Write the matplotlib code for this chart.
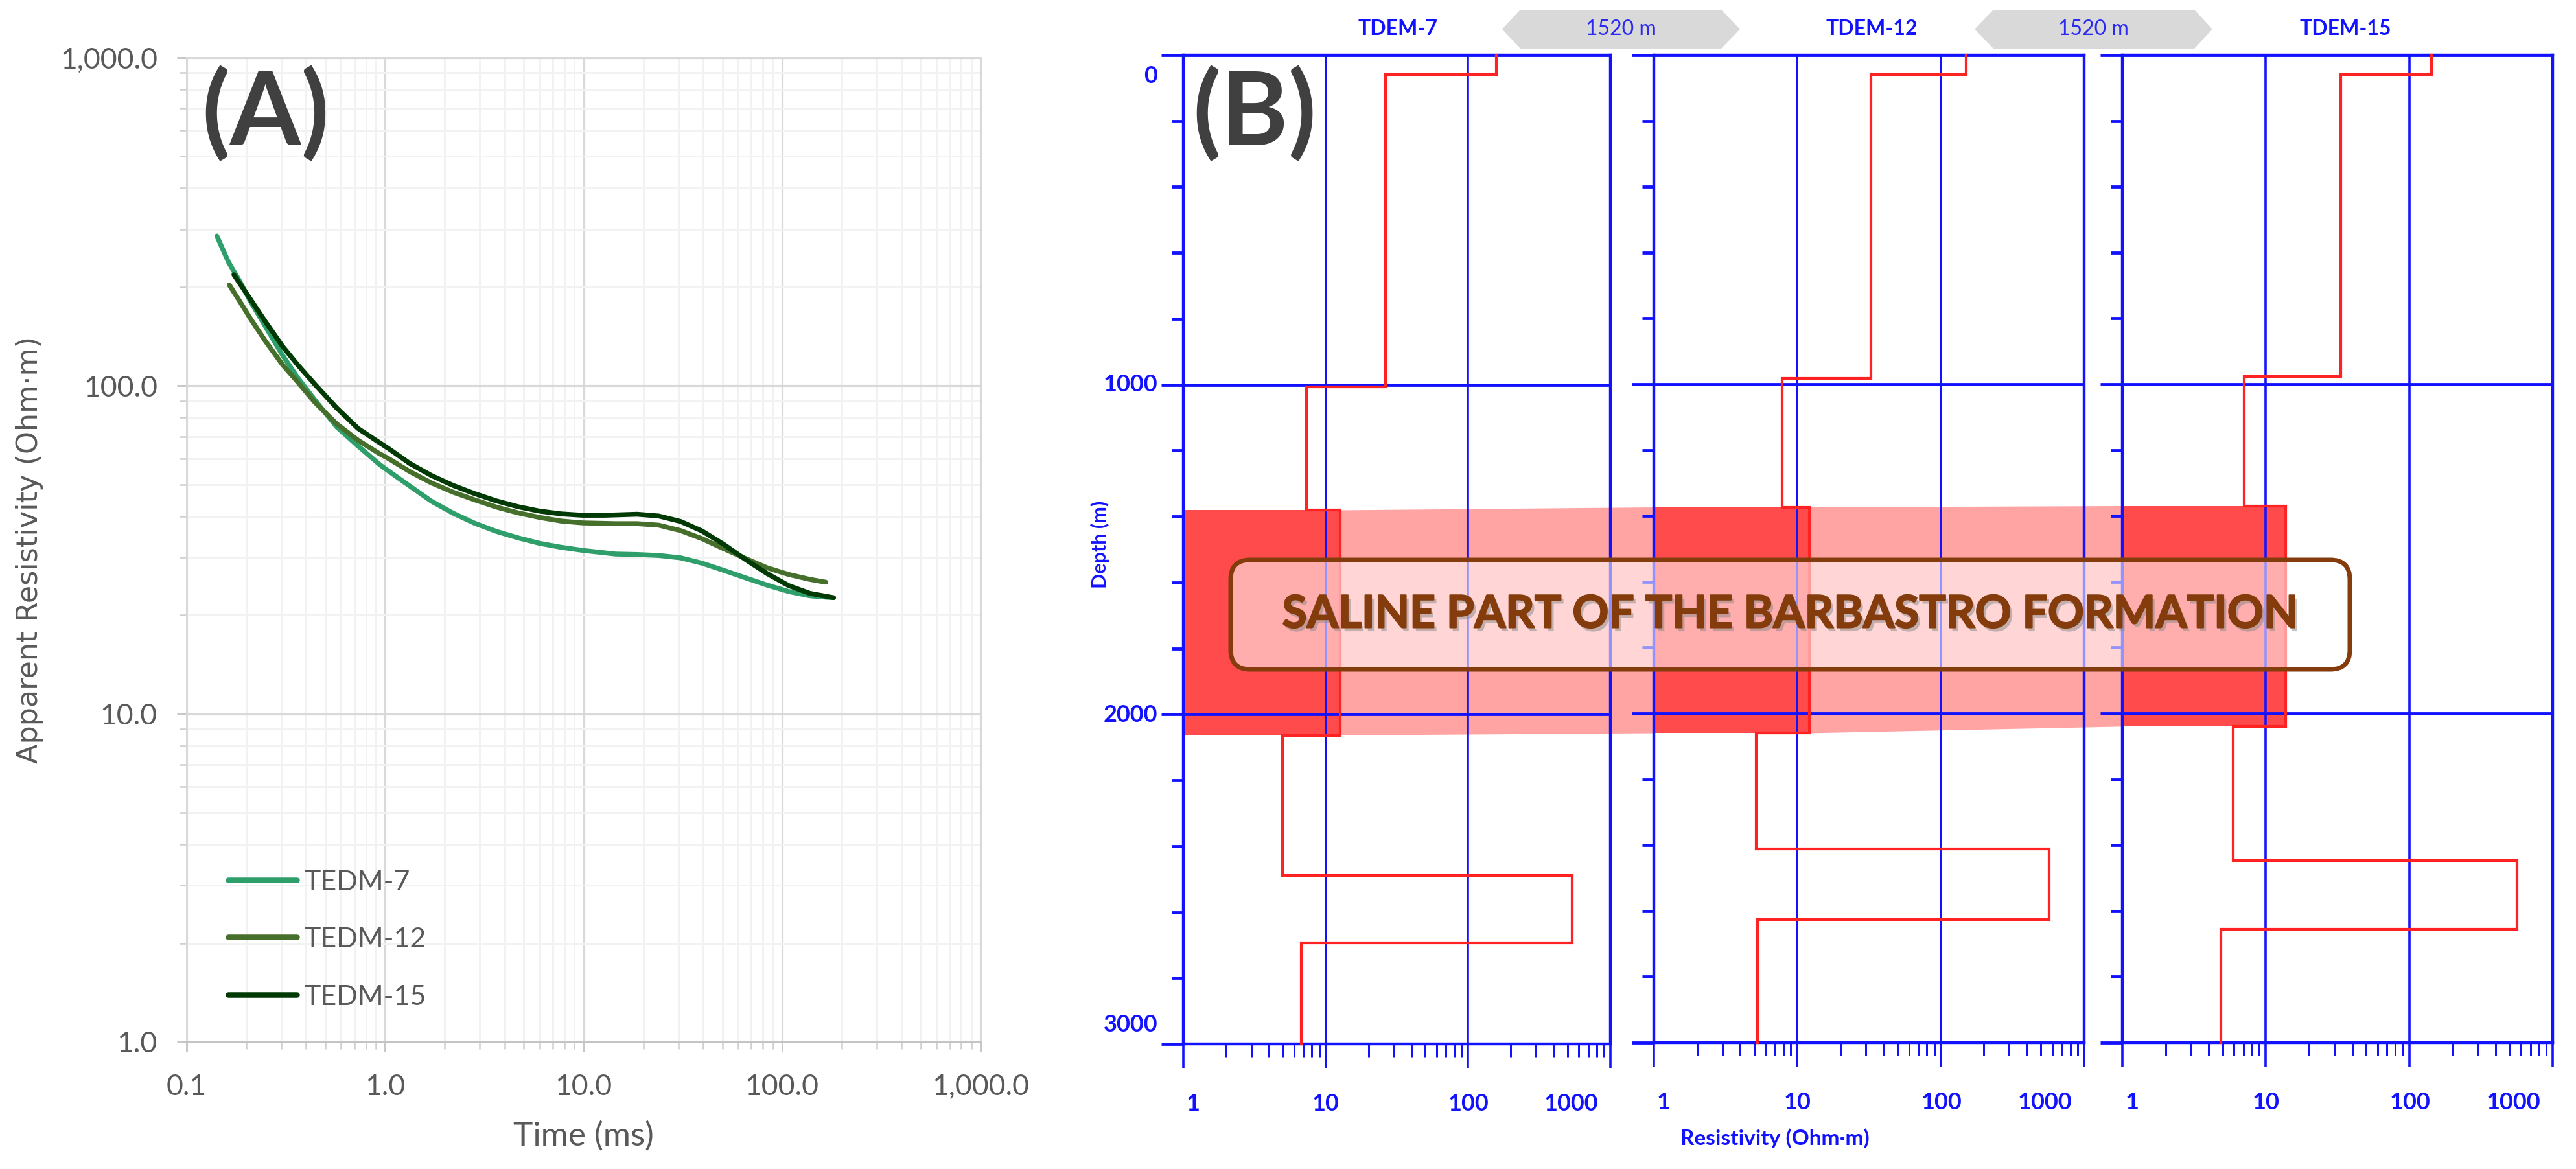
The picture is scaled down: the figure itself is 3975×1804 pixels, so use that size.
import matplotlib
matplotlib.use('Agg')
import matplotlib.pyplot as plt
import matplotlib.patheffects as pe
from matplotlib.patches import FancyBboxPatch, Polygon, Rectangle
from matplotlib.ticker import FixedLocator, FuncFormatter, LogLocator, NullFormatter

W, H = 3975, 1804
DPI = 100

plt.rcParams['font.family'] = ['Lato', 'DejaVu Sans']

# panel A: apparent resistivity curves (time in ms, resistivity in ohm.m)
t_tedm7 = [0.142, 0.1626, 0.1845, 0.209, 0.304, 0.362, 0.443, 0.569, 0.731, 0.94, 1.04, 1.33, 1.71,
           2.2, 2.83, 3.63, 4.67, 6.0, 7.7, 9.9, 14.5, 18.6, 23.9, 30.8, 39.5, 50.7, 65.2, 83.8,
           108, 138, 178]
r_tedm7 = [286, 238, 209, 181.5, 124, 106, 90.5, 75, 65.5, 57.5, 55, 49.5, 44.5,
           40.9, 38.1, 36, 34.4, 33.1, 32.2, 31.5, 30.7, 30.6, 30.4, 29.9, 28.8, 27.4, 26, 24.7,
           23.6, 22.9, 22.6]
t_tedm12 = [0.164, 0.1845, 0.209, 0.249, 0.304, 0.362, 0.443, 0.569, 0.731, 0.94, 1.04, 1.33, 1.71,
            2.2, 2.83, 3.63, 4.67, 6.0, 7.7, 9.9, 14.5, 18.6, 23.9, 30.8, 39.5, 50.7, 65.2, 83.8,
            108, 138, 166]
r_tedm12 = [203, 181.5, 160.7, 137, 116, 102.8, 89, 76.6, 68.2, 62, 60, 54.8, 50.6,
            47.4, 44.9, 42.7, 41, 39.7, 38.7, 38.2, 38, 38, 37.6, 36.2, 34.2, 31.9, 29.8, 27.9,
            26.6, 25.7, 25.2]
t_tedm15 = [0.173, 0.209, 0.249, 0.304, 0.362, 0.443, 0.569, 0.731, 0.94, 1.04, 1.33, 1.71,
            2.2, 2.83, 3.63, 4.67, 6.0, 7.7, 9.9, 12.7, 14.5, 18.6, 23.9, 30.8, 39.5, 50.7, 65.2, 83.8,
            108, 138, 182]
r_tedm15 = [218, 184, 157, 132, 116, 101, 85.7, 74.1, 67, 64.4, 58, 53.3,
            49.7, 46.9, 44.6, 42.8, 41.5, 40.7, 40.3, 40.3, 40.4, 40.6, 40.1, 38.6, 36.1, 32.9, 29.6, 26.8,
            24.6, 23.3, 22.6]
curve_labels = ['TEDM-7', 'TEDM-12', 'TEDM-15']
curve_colors = ['#2E9E6B', '#456F2A', '#023A06']

# panel B: layered models, step lines as (resistivity, depth) vertices
sounding_names = ['TDEM-7', 'TDEM-12', 'TDEM-15']
rho_7 = [158, 158, 26.2, 26.2, 7.3, 7.3, 12.7, 12.7, 4.97, 4.97, 540, 540, 6.75, 6.75]
dep_7 = [0, 59, 59, 1006, 1006, 1381, 1381, 2064, 2064, 2489, 2489, 2693, 2693, 3000]
rho_12 = [151, 151, 32.5, 32.5, 7.87, 7.87, 12.1, 12.1, 5.2, 5.2, 570, 570, 5.3, 5.3]
dep_12 = [0, 59, 59, 983, 983, 1374, 1374, 2060, 2060, 2412, 2412, 2625, 2625, 3000]
rho_15 = [143, 143, 33.3, 33.3, 7.1, 7.1, 13.7, 13.7, 5.93, 5.93, 562, 562, 4.86, 4.86]
dep_15 = [0, 59, 59, 977, 977, 1370, 1370, 2040, 2040, 2446, 2446, 2656, 2656, 3000]
saline_rho = [12.7, 12.1, 13.7]
saline_top = [1381, 1374, 1370]
saline_base = [2064, 2060, 2040]
depth_major = [0, 1000, 2000, 3000]
depth_minor = [200, 400, 600, 800, 1200, 1400, 1600, 1800, 2200, 2400, 2600, 2800]
res_labels = [1, 10, 100, 1000]

# axes boxes in pixels: left, right, top, bottom
box_a = (288, 1513, 89, 1608)
boxes_b = [(1826, 2485, 85, 1611), (2552, 3216, 85, 1609), (3275, 3939, 85, 1609)]
title_x = [2157, 2888, 3619]

BLUE = '#1212FF'
RED = '#FF2222'
BROWN = '#843C0C'
GREY_TXT = '#595959'


def px(v):
    # pixels to points
    return v * 72 / DPI


def add_axes_px(fig, box, **kw):
    l, r, t, b = box
    return fig.add_axes([l / W, 1 - b / H, (r - l) / W, (b - t) / H], **kw)


fig = plt.figure(figsize=(W / DPI, H / DPI), dpi=DPI, facecolor='white')

# pixel canvas under the axes (shading) and one over them (labels, box)
bg = fig.add_axes([0, 0, 1, 1], zorder=0)
top = fig.add_axes([0, 0, 1, 1], zorder=5)
for canvas in (bg, top):
    canvas.set_xlim(0, W)
    canvas.set_ylim(H, 0)
    canvas.axis('off')
top.patch.set_alpha(0)

# ---- panel A ----
ax = add_axes_px(fig, box_a, zorder=1, facecolor='none')
ax.set_xscale('log')
ax.set_yscale('log')
ax.set_xlim(0.1, 1000)
ax.set_ylim(1, 1000)
for axis in (ax.xaxis, ax.yaxis):
    axis.set_major_locator(LogLocator(base=10, numticks=10))
    axis.set_minor_locator(LogLocator(base=10, subs=range(2, 10), numticks=10))
    axis.set_major_formatter(FuncFormatter(lambda v, _: f'{v:,.1f}'))
    axis.set_minor_formatter(NullFormatter())
ax.grid(which='major', color='#D9D9D9', lw=px(3.2))
ax.grid(which='minor', color='#F2F2F2', lw=px(3))
ax.set_axisbelow(True)
for spine in ax.spines.values():
    spine.set_color('#D9D9D9')
    spine.set_linewidth(px(3))
ax.spines['bottom'].set_color('#C4C4C4')
ax.spines['bottom'].set_linewidth(px(4))
ax.tick_params(which='major', length=px(15), width=px(3), color='#C8C8C8',
               labelsize=32, labelcolor=GREY_TXT, pad=px(30))
ax.tick_params(which='minor', length=px(11), width=px(2.5), color='#CFCFCF')
ax.tick_params(axis='x', which='major', pad=px(34))

curves = [(t_tedm7, r_tedm7), (t_tedm12, r_tedm12), (t_tedm15, r_tedm15)]
for (t, r), color in zip(curves, curve_colors):
    ax.plot(t, r, color=color, lw=px(7.5), solid_capstyle='round', solid_joinstyle='round')

top.text(900, 1753, 'Time (ms)', ha='center', va='center', fontsize=37, color=GREY_TXT)
top.text(46, 848, 'Apparent Resistivity (Ohm·m)', rotation=90, ha='center', va='center',
         fontsize=32, color=GREY_TXT, family=['DejaVu Sans'])
for y, label, color in zip([1358, 1446, 1535], curve_labels, curve_colors):
    top.plot([352, 458], [y, y], color=color, lw=px(8.5), solid_capstyle='round')
    top.text(469, y + 4, label, ha='left', va='center', fontsize=31, color=GREY_TXT)
top.text(410, 176, '(A)', ha='center', va='center', fontsize=114, fontweight='bold', color='#404040')
top.text(1936, 176, '(B)', ha='center', va='center', fontsize=114, fontweight='bold', color='#404040')

# ---- panel B ----
profiles = [(rho_7, dep_7), (rho_12, dep_12), (rho_15, dep_15)]
axes_b = []
for i, (box, (rho, dep)) in enumerate(zip(boxes_b, profiles)):
    a = add_axes_px(fig, box, zorder=2, facecolor='none')
    a.set_xscale('log')
    a.set_xlim(1, 1000)
    a.set_ylim(3000, 0)
    a.xaxis.set_major_locator(FixedLocator(res_labels))
    a.xaxis.set_minor_locator(LogLocator(base=10, subs=range(2, 10), numticks=10))
    a.yaxis.set_major_locator(FixedLocator(depth_major))
    a.yaxis.set_minor_locator(FixedLocator(depth_minor))
    a.xaxis.set_major_formatter(NullFormatter())
    a.xaxis.set_minor_formatter(NullFormatter())
    a.yaxis.set_major_formatter(NullFormatter())
    a.grid(which='major', axis='x', color=BLUE, lw=px(3.6))
    a.grid(which='major', axis='y', color=BLUE, lw=px(4.8))
    for spine in a.spines.values():
        spine.set_color(BLUE)
        spine.set_linewidth(px(4.4))
    a.tick_params(axis='x', which='major', length=px(37), width=px(3.6), color=BLUE)
    a.tick_params(axis='x', which='minor', length=px(20), width=px(3), color=BLUE)
    a.tick_params(axis='y', which='major', length=px(34), width=px(4.8), color=BLUE)
    a.tick_params(axis='y', which='minor', length=px(18), width=px(4.8), color=BLUE)
    a.plot(rho, dep, color=RED, lw=px(4.2), solid_joinstyle='miter', clip_on=False, zorder=4)
    axes_b.append(a)

    # resistivity labels are nudged inwards at both ends, as in the figure
    nudges = {1: 15, 10: 0, 100: 1, 1000: -61}
    for v in res_labels:
        a.annotate(str(v), (v, 0), xycoords=a.get_xaxis_transform(), xytext=(px(nudges[v]), px(-93)),
                   textcoords='offset points', ha='center', va='center', fontsize=26,
                   fontweight='bold', color=BLUE)

    top.text(title_x[i], 45, sounding_names[i], ha='center', va='center', fontsize=23,
             fontweight='bold', color=BLUE)

fig.canvas.draw()


def to_canvas(a, x, depth):
    return bg.transData.inverted().transform(a.transData.transform((x, depth)))


# saline layer: strong block in each log, pale band joining them
for i, a in enumerate(axes_b):
    p0 = to_canvas(a, 1, saline_top[i])
    p1 = to_canvas(a, saline_rho[i], saline_base[i])
    bg.add_patch(Rectangle(p0, p1[0] - p0[0], p1[1] - p0[1], facecolor='#FF4B4B', edgecolor='none', zorder=2))
    if i < 2:
        b = axes_b[i + 1]
        band = [to_canvas(a, saline_rho[i], saline_top[i]), to_canvas(b, 1, saline_top[i + 1]),
                to_canvas(b, 1, saline_base[i + 1]), to_canvas(a, saline_rho[i], saline_base[i])]
        bg.add_patch(Polygon(band, closed=True, facecolor='#FFA3A3', edgecolor='none', zorder=1))

# depth labels, the two end ones pulled inside the axis range
depth_label_y = {0: 118, 1000: 594, 2000: 1103, 3000: 1582}
for d, y in depth_label_y.items():
    top.text(1786, y, str(d), ha='right', va='center', fontsize=26, fontweight='bold', color=BLUE)
top.text(1697, 840, 'Depth (m)', rotation=90, ha='center', va='center', fontsize=22, fontweight='bold', color=BLUE)
top.text(2739, 1757, 'Resistivity (Ohm·m)', ha='center', va='center', fontsize=24, fontweight='bold', color=BLUE)

# distance arrows between the soundings
for x0, x1, x2, x3 in [(2318, 2346, 2656, 2685), (3047, 3076, 3386, 3414)]:
    hexagon = [(x0, 45), (x1, 15), (x2, 15), (x3, 45), (x2, 75), (x1, 75)]
    top.add_patch(Polygon(hexagon, closed=True, facecolor='#D9D9D9', edgecolor='none'))
    top.text((x0 + x3) / 2, 45, '1520 m', ha='center', va='center', fontsize=23, color='#2A2AF0')

# label box across the three logs
top.add_patch(FancyBboxPatch((1929, 894), 1667, 109, boxstyle='round,pad=30,rounding_size=30',
                             facecolor=(1, 1, 1, 0.55), edgecolor=BROWN, lw=px(7), zorder=3))
top.text(2763, 949, 'SALINE PART OF THE BARBASTRO FORMATION', ha='center', va='center', fontsize=50,
         fontweight='bold', color=BROWN, zorder=4,
         path_effects=[pe.withSimplePatchShadow(offset=(3, -4), shadow_rgbFace='#888888', alpha=0.5),
                       pe.withStroke(linewidth=1.5, foreground=BROWN)])

fig.savefig('out.png', dpi=DPI)
